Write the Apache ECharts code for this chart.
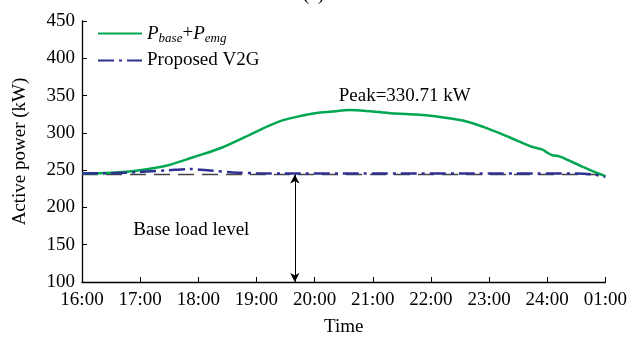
<!DOCTYPE html>
<html>
<head>
<meta charset="utf-8">
<script src="https://cdn.jsdelivr.net/npm/echarts@6/dist/echarts.min.js"></script>
<style>html,body{margin:0;padding:0;background:#fff}#c{width:630px;height:342px}</style>
</head>
<body>
<div id="c"></div>
<script>
// Tick labels for x axis (hours after 16:00)
var timeLabels = ['16:00','17:00','18:00','19:00','20:00','21:00','22:00','23:00','24:00','01:00'];
// P_base + P_emg curve
var emgHours  = [0,0.5,1.0,1.5,1.9,2.4,2.9,3.2,3.46,3.75,4.03,4.3,4.6,5.0,5.4,5.75,6.1,6.55,6.9,7.23,7.5,7.75,7.92,8.0,8.09,8.21,8.4,8.61,8.8,9.0];
var emgValues = [245.5,246.5,250,257,267,280,298,309,317,322.5,326.5,328.5,330.71,328.5,326,324.5,322,316.5,308,298,289,281,277.5,273.5,270,268.5,262,254.5,248,242];
// Proposed V2G curve
var v2gHours  = [0,0.5,1.0,1.5,1.85,2.2,2.6,3.0,3.5,4.5,5.5,6.5,7.5,8.5,8.8,9.0];
var v2gValues = [245.5,246,247.5,250,251.5,249.5,247,246,245.5,245.5,245.5,245.5,245.5,245.5,244,241];
// Base load level
var baseHours  = [0,9];
var baseValues = [244,244];
var arrowHour = 3.66;
var peakValue = 330.71;

function pairs(h, v){ return h.map(function(x,i){ return [x, v[i]]; }); }

var FONT = 'Liberation Serif';
var chart = echarts.init(document.getElementById('c'));
chart.setOption({
  animation:false,
  backgroundColor:'#fff',
  textStyle:{fontFamily:FONT,color:'#000'},
  title:{text:'(a)',left:298,top:-19,textStyle:{fontFamily:FONT,fontSize:19,fontWeight:'normal',color:'#000'}},
  grid:{left:82,right:24,top:21,bottom:51},
  legend:{
    orient:'vertical',left:92,top:19,itemWidth:44,itemHeight:10,itemGap:6,
    itemStyle:{opacity:0},
    data:['emg','V2G'],
    formatter:function(n){ return n==='emg' ? '{i|P}{s|base}{n|+}{i|P}{s|emg}' : '{n|Proposed V2G}'; },
    textStyle:{fontFamily:FONT,color:'#000',fontSize:19,
      rich:{
        i:{fontFamily:FONT,fontStyle:'italic',fontSize:19,color:'#000'},
        s:{fontFamily:FONT,fontStyle:'italic',fontSize:13,color:'#000',padding:[10,0,0,0]},
        n:{fontFamily:FONT,fontSize:19,color:'#000'}
      }}
  },
  xAxis:{
    type:'value',min:0,max:9,interval:1,
    name:'Time',nameLocation:'middle',nameGap:36,
    nameTextStyle:{fontFamily:FONT,fontSize:19,color:'#000'},
    axisLine:{lineStyle:{color:'#000',width:1.3}},
    axisTick:{inside:true,length:5,lineStyle:{color:'#000'}},
    axisLabel:{fontFamily:FONT,fontSize:19,color:'#000',margin:9,formatter:function(v){return timeLabels[Math.round(v)];}},
    splitLine:{show:false}
  },
  yAxis:{
    type:'value',min:100,max:450,interval:50,
    name:'Active power (kW)',nameLocation:'middle',nameGap:52,
    nameTextStyle:{fontFamily:FONT,fontSize:19,color:'#000'},
    axisLine:{show:true,lineStyle:{color:'#000',width:1.3}},
    axisTick:{show:true,inside:true,length:5,lineStyle:{color:'#000'}},
    axisLabel:{fontFamily:FONT,fontSize:19,color:'#000',margin:7},
    splitLine:{show:false}
  },
  series:[
    {
      name:'base',type:'line',data:pairs(baseHours,baseValues),symbol:'none',
      lineStyle:{color:'#444',width:1.5,type:[16,8]},z:1,
      markLine:{
        silent:true,symbol:['arrow','arrow'],symbolSize:[7,9],
        label:{show:false},
        lineStyle:{color:'#000',width:1,type:'solid'},
        data:[[{coord:[arrowHour,baseValues[0]]},{coord:[arrowHour,100]}]]
      },
      markPoint:{
        symbol:'circle',symbolSize:0,
        data:[
          {coord:[1.88,170],label:{show:true,position:'inside',formatter:'Base load level',fontFamily:FONT,fontSize:19,color:'#000'}},
          {coord:[5.55,350],label:{show:true,position:'inside',formatter:'Peak=' + peakValue.toFixed(2) + ' kW',fontFamily:FONT,fontSize:19,color:'#000'}}
        ]
      }
    },
    {
      name:'emg',type:'line',data:pairs(emgHours,emgValues),symbol:'none',smooth:0.3,
      lineStyle:{color:'#00a651',width:2.5},itemStyle:{color:'#00a651'},z:3
    },
    {
      name:'V2G',type:'line',data:pairs(v2gHours,v2gValues),symbol:'none',smooth:0.3,
      lineStyle:{color:'#2e3192',width:2.5,type:[16,5,3,5]},itemStyle:{color:'#2e3192'},z:4
    }
  ]
});
</script>
</body>
</html>
